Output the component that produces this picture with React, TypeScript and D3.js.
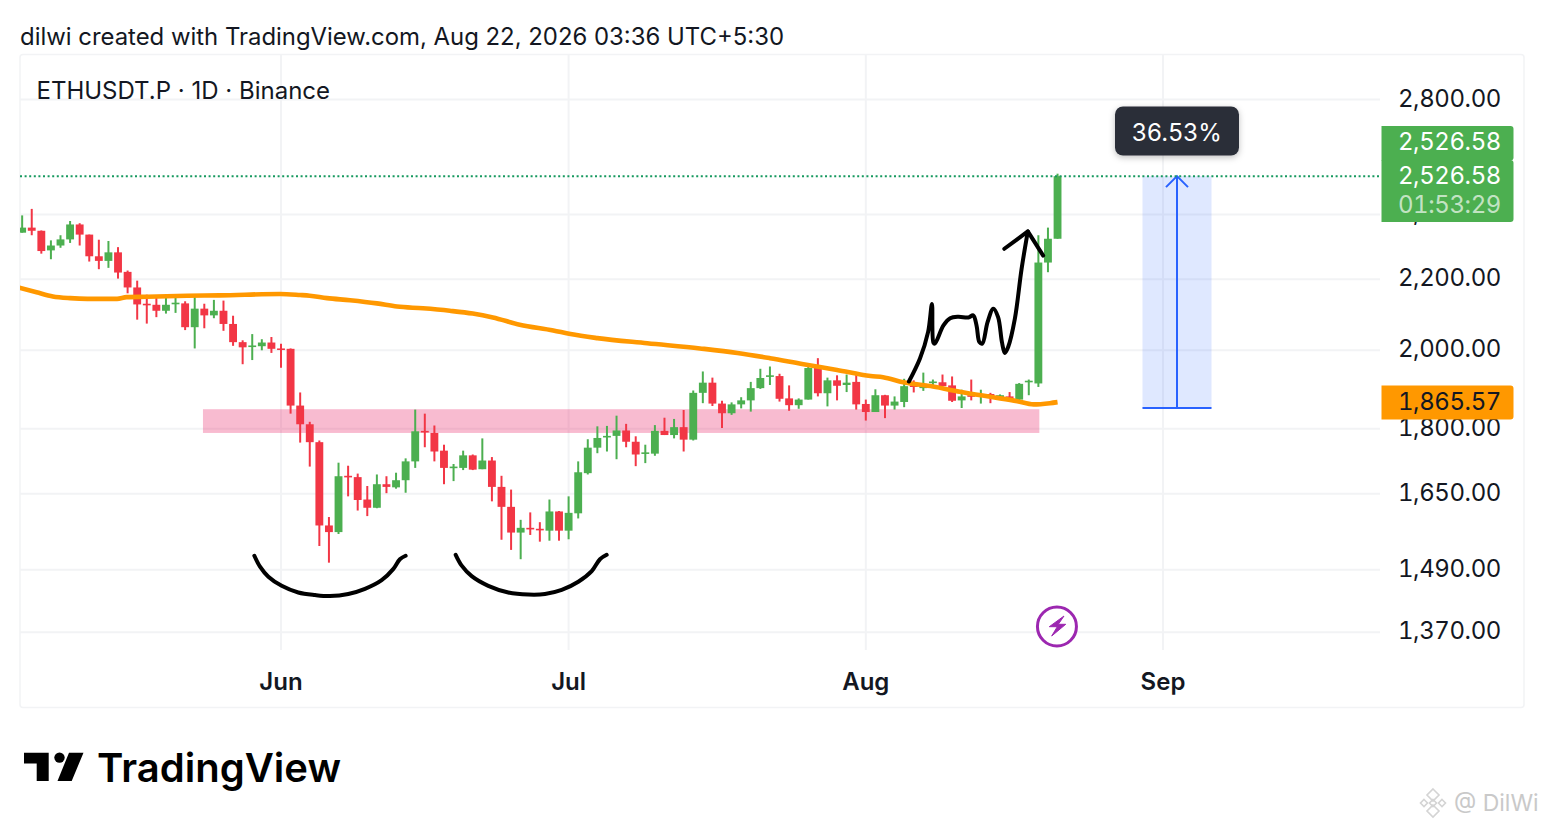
import React, { useRef, useEffect } from 'react';
import * as d3 from 'd3';

// daily candles, first one is May 5
const opens = [
  2342, 2358, 2348, 2287, 2302, 2321, 2368, 2336, 2269, 2255,
  2281, 2222, 2176, 2129, 2126, 2109, 2128, 2130, 2063, 2115,
  2096, 2109, 2072, 2022, 2010, 2011, 2021, 2005, 2004, 1857,
  1811, 1768, 1581, 1567, 1690, 1687, 1637, 1619, 1671, 1664,
  1680, 1723, 1795, 1790, 1748, 1708, 1708, 1737, 1705, 1725,
  1665, 1621, 1566, 1576, 1574, 1570, 1611, 1570, 1607, 1696,
  1755, 1780, 1783, 1796, 1769, 1741, 1741, 1795, 1785, 1804,
  1774, 1889, 1915, 1862, 1838, 1860, 1870, 1901, 1931, 1932,
  1875, 1858, 1872, 1953, 1888, 1921, 1909, 1917, 1861, 1841,
  1883, 1857, 1866, 1908, 1901, 1914, 1916, 1908, 1870, 1883,
  1879, 1886, 1878, 1880, 1872, 1917, 1913, 2250, 2323,
];
const highs = [
  2397, 2418, 2349, 2318, 2334, 2379, 2372, 2336, 2320, 2316,
  2297, 2226, 2196, 2155, 2146, 2146, 2155, 2136, 2148, 2129,
  2140, 2138, 2095, 2027, 2044, 2030, 2036, 2018, 2005, 1890,
  1817, 1772, 1599, 1720, 1713, 1695, 1667, 1693, 1689, 1697,
  1730, 1847, 1837, 1808, 1762, 1717, 1748, 1739, 1777, 1733,
  1690, 1659, 1593, 1609, 1588, 1637, 1612, 1644, 1723, 1775,
  1806, 1807, 1832, 1812, 1782, 1762, 1809, 1827, 1824, 1846,
  1895, 1944, 1928, 1869, 1865, 1878, 1917, 1951, 1957, 1938,
  1908, 1875, 1964, 1979, 1928, 1934, 1936, 1935, 1872, 1898,
  1884, 1880, 1925, 1921, 1941, 1923, 1936, 1931, 1897, 1923,
  1897, 1889, 1885, 1891, 1914, 1923, 2334, 2358, 2535,
];
const lows = [
  2342, 2334, 2277, 2260, 2295, 2310, 2302, 2253, 2230, 2234,
  2202, 2159, 2084, 2073, 2091, 2101, 2103, 2055, 2005, 2060,
  2088, 2053, 2012, 1963, 1974, 2000, 1993, 1954, 1837, 1767,
  1711, 1538, 1504, 1563, 1644, 1613, 1601, 1618, 1651, 1661,
  1652, 1708, 1756, 1723, 1671, 1678, 1703, 1703, 1705, 1633,
  1551, 1530, 1511, 1561, 1547, 1549, 1549, 1552, 1596, 1693,
  1742, 1746, 1728, 1756, 1712, 1719, 1736, 1785, 1777, 1746,
  1772, 1863, 1856, 1802, 1834, 1850, 1842, 1899, 1909, 1867,
  1844, 1849, 1872, 1880, 1855, 1870, 1891, 1847, 1820, 1841,
  1826, 1847, 1853, 1890, 1894, 1908, 1905, 1866, 1851, 1870,
  1862, 1863, 1873, 1867, 1870, 1883, 1904, 2221, 2323,
];
const closes = [
  2358, 2348, 2285, 2302, 2321, 2368, 2336, 2269, 2255, 2281,
  2220, 2176, 2127, 2125, 2109, 2126, 2132, 2063, 2115, 2096,
  2109, 2072, 2022, 2008, 2013, 2021, 2004, 2002, 1857, 1811,
  1768, 1581, 1567, 1689, 1687, 1636, 1619, 1671, 1665, 1680,
  1723, 1794, 1792, 1746, 1708, 1711, 1737, 1704, 1725, 1665,
  1621, 1566, 1576, 1573, 1571, 1611, 1570, 1608, 1698, 1755,
  1778, 1783, 1796, 1769, 1739, 1744, 1795, 1785, 1804, 1774,
  1889, 1915, 1862, 1838, 1860, 1870, 1901, 1927, 1934, 1874,
  1858, 1872, 1953, 1888, 1921, 1907, 1915, 1860, 1841, 1883,
  1857, 1867, 1906, 1905, 1912, 1918, 1906, 1869, 1880, 1879,
  1884, 1881, 1883, 1872, 1912, 1920, 2250, 2323, 2526.58,
];

// orange moving average, read as [days from Jun 1, price]
const maLine: [number, number][] = [
  [-27.3, 2175], [-25.5, 2162], [-23.8, 2150], [-22, 2145], [-20.2, 2143], [-17.1, 2143],
  [-16.1, 2148], [-14, 2149], [-9.8, 2152], [-6.4, 2153], [-0.1, 2157], [2, 2154],
  [3, 2152], [4.8, 2145], [7.2, 2139], [10, 2130], [12.1, 2121], [14.8, 2116],
  [17.6, 2109], [20, 2101], [22.1, 2090], [24.9, 2070], [28.4, 2054], [30.2, 2044],
  [33, 2033], [38.2, 2019], [43.7, 2005], [47.6, 1993], [51, 1979], [54.5, 1963],
  [58, 1948], [61.5, 1932], [62.8, 1929], [64.9, 1916], [68, 1905], [70.8, 1892],
  [74, 1879], [76.8, 1868], [78.5, 1860], [80.2, 1863], [81, 1865.57],
];

// hand drawn marks, also [days from Jun 1, price]
const leftCup: [number, number][] = [
  [-2.78, 1518], [-2.19, 1496], [-1.32, 1476], [0.07, 1458], [1.8, 1445], [3.55, 1440], [5.11, 1438],
  [7.02, 1442], [8.76, 1452], [10.5, 1469], [11.7, 1491], [12.4, 1511], [13, 1518],
];
const rightCup: [number, number][] = [
  [18.22, 1520], [18.85, 1498], [19.89, 1477], [21.62, 1458], [23.71, 1445], [25.8, 1441],
  [27.54, 1442], [29.28, 1450], [31.01, 1466], [32.41, 1487], [33.27, 1511], [33.97, 1520],
];
const scribble: [number, number][] = [
  [65.5, 1918], [66.65, 1978], [67.5, 2050], [67.9, 2128], [68.05, 2021], [68.2, 2018], [69.1, 2068],
  [69.8, 2088], [70.65, 2092], [71.7, 2090], [72.2, 2096], [72.55, 2068], [72.85, 2022], [73.15, 2018],
  [73.7, 2077], [74.3, 2115], [74.8, 2091], [75.2, 2022], [75.5, 1993], [75.85, 2009], [76.55, 2087],
  [77.25, 2231], [77.9, 2346],
];
const arrowWings: [number, number][] = [[75.45, 2292], [77.9, 2346], [79.5, 2271]];

const priceTicks = [2800, 2400, 2200, 2000, 1800, 1650, 1490, 1370];
const zonePrices = [1848, 1790];
const zoneDays = [-8.14, 79.1];
const measurePrices = [1850.78, 2526.58];
const measureDays = [89.86, 97.06];
const lastPrice = 2526.58;
const maLast = 1865.57;
const countdown = '01:53:29';

const FONT = 'Inter, "Noto Sans", sans-serif';
const INK = '#131722';
const GRID = '#f2f3f5';
const GREEN = '#4caf50';
const RED = '#f23645';
const JUN1 = Date.UTC(2026, 5, 1);
const DAY = 864e5;

const App: React.FC = () => {
  const ref = useRef<SVGSVGElement>(null);

  useEffect(() => {
    const svg = d3.select(ref.current);
    svg.selectAll('*').remove();

    const x = d3.scaleUtc()
      .domain([new Date(JUN1), new Date(Date.UTC(2026, 8, 1))])
      .range([281, 1163]);
    const y = d3.scaleLog().domain([1370, 2800]).range([632.2, 99.6]);
    const xd = (d: number) => x(new Date(JUN1 + d * DAY));

    const fmt = d3.format(',.2f');
    const text = (parent: any, tx: number, ty: number, s: string, size: number, fill = INK, anchor = 'start', weight = 400) =>
      parent.append('text')
        .attr('x', tx).attr('y', ty)
        .attr('dy', '0.36em')
        .attr('text-anchor', anchor)
        .attr('font-family', FONT)
        .attr('font-size', size)
        .attr('font-weight', weight)
        .attr('fill', fill)
        .text(s);
    // price scale numbers have fixed width digits
    const num = (tx: number, ty: number, s: string, fill = INK) =>
      text(svg, tx, ty, s, 24, fill, 'end')
        .attr('letter-spacing', -0.4)
        .style('font-variant-numeric', 'tabular-nums');

    const defs = svg.append('defs');
    defs.append('clipPath').attr('id', 'pane')
      .append('rect').attr('x', 20).attr('y', 54).attr('width', 1360).attr('height', 596);
    const blur = defs.append('filter').attr('id', 'soft')
      .attr('x', '-20%').attr('y', '-30%').attr('width', '140%').attr('height', '170%');
    blur.append('feDropShadow').attr('dx', 0).attr('dy', 2).attr('stdDeviation', 3)
      .attr('flood-color', '#000').attr('flood-opacity', 0.25);

    text(svg, 20, 36, 'dilwi created with TradingView.com, Aug 22, 2026 03:36 UTC+5:30', 23.9);

    // frame and grid
    svg.append('rect')
      .attr('x', 20).attr('y', 54.5).attr('width', 1504).attr('height', 653).attr('rx', 3)
      .attr('fill', 'none').attr('stroke', GRID).attr('stroke-width', 1.5);

    const monthDates = d3.utcMonth.range(new Date(Date.UTC(2026, 5, 1)), new Date(Date.UTC(2026, 8, 2)));
    svg.append('g').selectAll('line').data(monthDates).enter().append('line')
      .attr('x1', d => x(d)).attr('x2', d => x(d))
      .attr('y1', 55).attr('y2', 650)
      .attr('stroke', GRID).attr('stroke-width', 2);
    svg.append('g').selectAll('line').data(priceTicks).enter().append('line')
      .attr('x1', 20).attr('x2', 1380)
      .attr('y1', d => y(d)).attr('y2', d => y(d))
      .attr('stroke', GRID).attr('stroke-width', 2);

    const pane = svg.append('g').attr('clip-path', 'url(#pane)');

    // pink zone
    pane.append('rect')
      .attr('x', xd(zoneDays[0]))
      .attr('y', y(zonePrices[0]))
      .attr('width', xd(zoneDays[1]) - xd(zoneDays[0]))
      .attr('height', y(zonePrices[1]) - y(zonePrices[0]))
      .attr('fill', 'rgba(233,30,99,0.3)');

    // measure box
    pane.append('rect')
      .attr('x', xd(measureDays[0]))
      .attr('y', y(measurePrices[1]))
      .attr('width', xd(measureDays[1]) - xd(measureDays[0]))
      .attr('height', y(measurePrices[0]) - y(measurePrices[1]))
      .attr('fill', 'rgba(41,98,255,0.15)');
    const mid = (xd(measureDays[0]) + xd(measureDays[1])) / 2;
    pane.append('line')
      .attr('x1', xd(measureDays[0])).attr('x2', xd(measureDays[1]))
      .attr('y1', y(measurePrices[0])).attr('y2', y(measurePrices[0]))
      .attr('stroke', '#2962ff').attr('stroke-width', 2);
    pane.append('line')
      .attr('x1', mid).attr('x2', mid)
      .attr('y1', y(measurePrices[0])).attr('y2', y(measurePrices[1]))
      .attr('stroke', '#2962ff').attr('stroke-width', 2);
    pane.append('path')
      .attr('d', `M${mid - 11},${y(measurePrices[1]) + 11} L${mid},${y(measurePrices[1])} L${mid + 11},${y(measurePrices[1]) + 11}`)
      .attr('fill', 'none').attr('stroke', '#2962ff').attr('stroke-width', 2);

    // candles
    const candles = opens.map((o, i) => ({ d: i - 27, o, h: highs[i], l: lows[i], c: closes[i] }));
    const bodyW = (xd(1) - xd(0)) * 0.82;
    const colorOf = (d: any) => (d.c >= d.o ? GREEN : RED);
    const g = pane.append('g');
    g.selectAll('line').data(candles).enter().append('line')
      .attr('x1', d => xd(d.d)).attr('x2', d => xd(d.d))
      .attr('y1', d => y(d.h)).attr('y2', d => y(d.l))
      .attr('stroke', colorOf).attr('stroke-width', 2);
    g.selectAll('rect').data(candles).enter().append('rect')
      .attr('x', d => xd(d.d) - bodyW / 2)
      .attr('y', d => y(Math.max(d.o, d.c)))
      .attr('width', bodyW)
      .attr('height', d => Math.max(1.6, Math.abs(y(d.o) - y(d.c))))
      .attr('fill', colorOf);

    // moving average
    const lineOf = d3.line<[number, number]>()
      .x(d => xd(d[0])).y(d => y(d[1]));
    pane.append('path')
      .attr('d', lineOf.curve(d3.curveMonotoneX)(maLine))
      .attr('fill', 'none').attr('stroke', '#ff9800').attr('stroke-width', 4.6);

    // last price line
    pane.append('line')
      .attr('x1', 20).attr('x2', 1380)
      .attr('y1', y(lastPrice)).attr('y2', y(lastPrice))
      .attr('stroke', '#16995f').attr('stroke-width', 2).attr('stroke-dasharray', '2 2.6');

    // drawings
    const ink = (pts: [number, number][], curve: any) =>
      pane.append('path')
        .attr('d', lineOf.curve(curve)(pts))
        .attr('fill', 'none').attr('stroke', '#000').attr('stroke-width', 4)
        .attr('stroke-linecap', 'round').attr('stroke-linejoin', 'round');
    ink(leftCup, d3.curveCatmullRom);
    ink(rightCup, d3.curveCatmullRom);
    ink(scribble, d3.curveCatmullRom);
    ink(arrowWings, d3.curveLinear);

    // percent label
    const labelX = mid;
    svg.append('rect')
      .attr('x', labelX - 62).attr('y', 106.5).attr('width', 124).attr('height', 49).attr('rx', 8)
      .attr('fill', '#2a2e39').attr('filter', 'url(#soft)');
    text(svg, labelX, 132, '36.53%', 24, '#fff', 'middle').attr('letter-spacing', 0.3);

    // symbol line
    text(svg, 36.5, 90, 'ETHUSDT.P \u00b7 1D \u00b7 Binance', 24);

    // price axis
    priceTicks.forEach(d => num(1501, y(d) - 1.7, fmt(d)));

    // price tags
    const tag = (y0: number, y1: number, fill: string) =>
      svg.append('path')
        .attr('d', `M1381.5,${y0} H1510.5 a3,3 0 0 1 3,3 V${y1 - 3} a3,3 0 0 1 -3,3 H1381.5 Z`)
        .attr('fill', fill);
    tag(126, 160.5, GREEN);
    tag(160, 222, GREEN);
    tag(385.5, 419.5, '#ff9800');
    num(1501, 141, fmt(lastPrice), '#fff');
    num(1501, 175.5, fmt(lastPrice), '#fff');
    num(1501, 204, countdown, 'rgba(255,255,255,0.68)');
    num(1501, 401.5, fmt(maLast));

    // time axis
    svg.append('g').selectAll('text').data(monthDates).enter().append('text')
      .attr('x', d => x(d)).attr('y', 681)
      .attr('dy', '0.36em')
      .attr('text-anchor', 'middle')
      .attr('font-family', FONT).attr('font-size', 24).attr('font-weight', 600).attr('fill', INK)
      .text(d => d3.utcFormat('%b')(d));

    // lightning badge
    svg.append('circle')
      .attr('cx', xd(81) - 0.6).attr('cy', 626.5).attr('r', 19.5)
      .attr('fill', '#fff').attr('stroke', '#9c27b0').attr('stroke-width', 3);
    svg.append('path')
      .attr('d', 'M1064,616 L1049.3,626.7 H1057.3 L1051.7,636 L1065.7,624.3 H1058.3 Z')
      .attr('fill', '#9c27b0').attr('stroke', '#9c27b0').attr('stroke-width', 1).attr('stroke-linejoin', 'round');

    // TradingView logo
    svg.append('path')
      .attr('d', 'M24,752.7 H48.7 V781 H36.7 V763.6 H24 Z M69,752.7 H83.5 L71.7,781 H57.5 Z')
      .attr('fill', '#000');
    svg.append('circle').attr('cx', 59.5).attr('cy', 757.6).attr('r', 5.2).attr('fill', '#000');
    svg.append('text')
      .attr('x', 97).attr('y', 782)
      .attr('font-family', FONT).attr('font-size', 40).attr('font-weight', 600).attr('fill', '#000')
      .attr('textLength', 244).attr('lengthAdjust', 'spacingAndGlyphs')
      .text('TradingView');

    // watermark
    const mark = svg.append('g').attr('fill', 'none').attr('stroke', '#d4d4d4').attr('stroke-width', 1.6);
    [[1433, 795, 6], [1424, 803, 3.5], [1442, 803, 3.5], [1433, 803, 3.5], [1433, 811, 6]].forEach(([cx, cy, r]) => {
      mark.append('path').attr('d', `M${cx},${cy - r} L${cx + r},${cy} L${cx},${cy + r} L${cx - r},${cy} Z`);
    });
    text(svg, 1454, 802.5, '@ DilWi', 23, '#c9c9c9');
  }, []);

  return (
    <svg
      ref={ref}
      width={1544}
      height={828}
      style={{ position: 'absolute', left: 0, top: 0, background: '#fff' }}
    />
  );
};

export default App;
